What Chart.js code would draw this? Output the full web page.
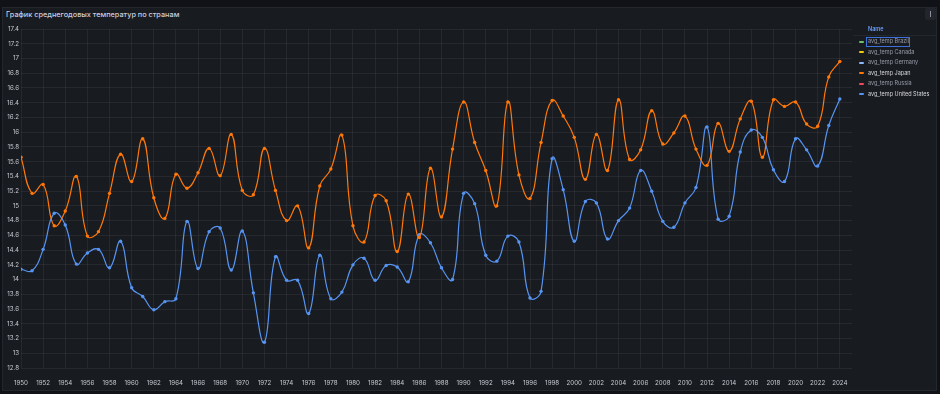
<!DOCTYPE html>
<html>
<head>
<meta charset="utf-8">
<script src="https://cdn.jsdelivr.net/npm/chart.js@4"></script>
<style>
  html, body { margin: 0; padding: 0; background: #111217; }
  body { width: 940px; height: 394px; position: relative; overflow: hidden; font-family: Inter, "Noto Sans", sans-serif; }
  #panel { position: absolute; left: 2px; top: 7px; width: 935px; height: 384px; background: #181b1f; border: 1px solid #24272e; box-sizing: border-box; }
  #title { position: absolute; left: 6px; top: 10px; font-size: 7.3px; color: #ccccdc; font-weight: 500; }
  #menu { position: absolute; left: 925px; top: 8px; width: 11px; height: 12px; background: #22252b; border-radius: 2px; }
  #menu span { position: absolute; left: 5px; top: 3px; width: 1px; height: 6px; background: #8e8e9e; }
  #chartBox { position: absolute; left: 0; top: 0; width: 940px; height: 394px; }
  #legend { position: absolute; left: 853px; top: 24px; width: 84px; font-size: 5.5px; }
  #legend .head { color: #6e9fff; font-weight: 600; padding-left: 15px; height: 11px; line-height: 11px; border-bottom: 1px solid #24272e; }
  #legend .row { position: relative; height: 10.6px; line-height: 10.6px; }
  #legend .mark { position: absolute; left: 6px; top: 4.5px; width: 5px; height: 2px; border-radius: 1px; }
  #legend .txt { position: absolute; left: 15px; top: 0; white-space: nowrap; }
  #legend .focus { position: absolute; left: 13px; top: 0.5px; width: 42px; height: 8.5px; border: 1px solid #3d71d9; }
</style>
</head>
<body>
<div id="panel"></div>
<div id="title">График среднегодовых температур по странам</div>
<div id="menu"><span></span></div>
<div id="chartBox"><canvas id="tempChart" width="940" height="394"></canvas></div>
<div id="legend"></div>

<script>
// years and yearly averages
const years = [];
for (let y = 1950; y <= 2024; y++) years.push(y);

const japanTemps = [
  15.66, 15.17, 15.29, 14.73, 14.93, 15.40, 14.59, 14.65, 15.17, 15.70,
  15.33, 15.91, 15.11, 14.83, 15.43, 15.24, 15.45, 15.78, 15.41, 15.97,
  15.21, 15.15, 15.78, 15.21, 14.80, 15.00, 14.43, 15.27, 15.50, 15.96,
  14.73, 14.51, 15.14, 15.07, 14.38, 15.16, 14.57, 15.51, 14.85, 15.77,
  16.41, 15.86, 15.48, 15.00, 16.41, 15.42, 15.10, 15.86, 16.43, 16.22,
  15.93, 15.36, 15.97, 15.48, 16.44, 15.63, 15.76, 16.29, 15.84, 15.99,
  16.22, 15.77, 15.55, 16.12, 15.74, 16.18, 16.42, 15.66, 16.44, 16.35,
  16.41, 16.11, 16.08, 16.75, 16.96
];

const usTemps = [
  14.14, 14.12, 14.41, 14.90, 14.74, 14.21, 14.36, 14.41, 14.16, 14.52,
  13.89, 13.77, 13.59, 13.70, 13.74, 14.79, 14.15, 14.65, 14.70, 14.13,
  14.66, 13.82, 13.15, 14.31, 13.99, 13.99, 13.54, 14.33, 13.74, 13.83,
  14.20, 14.29, 13.99, 14.19, 14.17, 13.97, 14.61, 14.50, 14.16, 14.00,
  15.17, 15.03, 14.33, 14.25, 14.59, 14.51, 13.75, 13.84, 15.64, 15.22,
  14.52, 15.06, 15.04, 14.55, 14.80, 14.97, 15.48, 15.20, 14.79, 14.71,
  15.04, 15.25, 16.07, 14.82, 14.86, 15.73, 16.03, 15.93, 15.49, 15.33,
  15.91, 15.76, 15.54, 16.09, 16.45
];

const seriesNames = [
  "avg_temp Brazil", "avg_temp Canada", "avg_temp Germany",
  "avg_temp Japan", "avg_temp Russia", "avg_temp United States"
];
const seriesColors = ["#73BF69", "#F2CC0C", "#8AB8FF", "#FF780A", "#F2495C", "#5794F2"];
const seriesValues = [[], [], [], japanTemps, [], usTemps];

const yMin = 12.8;
const yMax = 17.4;
const yStep = 0.2;

function toPoints(values) {
  return values.map((v, i) => ({ x: years[i], y: v }));
}

const datasets = seriesNames.map((name, i) => ({
  label: name,
  data: toPoints(seriesValues[i]),
  borderColor: seriesColors[i],
  backgroundColor: seriesColors[i],
  pointBackgroundColor: seriesColors[i],
  pointBorderWidth: 0,
  pointRadius: 1.7,
  borderWidth: 1.2,
  tension: 0.45,
}));

const gridColor = "rgba(204, 204, 220, 0.08)";
const tickFont = { family: "Inter", size: 6.2 };

const ctx = document.getElementById("tempChart");

new Chart(ctx, {
  type: "line",
  data: { datasets: datasets },
  options: {
    responsive: false,
    animation: false,
    layout: { padding: { left: 0, top: 29, right: 88, bottom: 0 } },
    plugins: {
      legend: { display: false },
      tooltip: { enabled: false },
    },
    scales: {
      x: {
        type: "linear",
        min: 1950,
        max: 2025.1,
        grid: { color: gridColor, drawTicks: false },
        border: { display: false },
        ticks: {
          color: "#c7cad3",
          font: tickFont,
          padding: 11,
          maxRotation: 0,
          autoSkip: false,
          callback: (v) => String(v),
        },
        afterBuildTicks: (scale) => {
          scale.ticks = years.filter((y) => y % 2 === 0).map((y) => ({ value: y }));
        },
        afterFit: (scale) => { scale.height = 26; },
      },
      y: {
        min: yMin,
        max: yMax,
        grid: { color: gridColor, drawTicks: false },
        border: { display: false },
        ticks: {
          color: "#c7cad3",
          font: tickFont,
          padding: 2,
          stepSize: yStep,
          callback: (v) => String(Math.round(v * 10) / 10),
        },
        afterFit: (scale) => { scale.width = 21; },
      },
    },
  },
});

// legend table on the right
const legend = document.getElementById("legend");
const head = document.createElement("div");
head.className = "head";
head.textContent = "Name";
legend.appendChild(head);

seriesNames.forEach((name, i) => {
  const row = document.createElement("div");
  row.className = "row";
  const mark = document.createElement("div");
  mark.className = "mark";
  mark.style.background = seriesColors[i];
  const txt = document.createElement("div");
  txt.className = "txt";
  txt.textContent = name;
  txt.style.color = seriesValues[i].length ? "#d8d9e0" : "#9a9caa";
  row.appendChild(mark);
  row.appendChild(txt);
  if (i === 0) {
    const focus = document.createElement("div");
    focus.className = "focus";
    row.appendChild(focus);
  }
  legend.appendChild(row);
});
</script>
</body>
</html>
